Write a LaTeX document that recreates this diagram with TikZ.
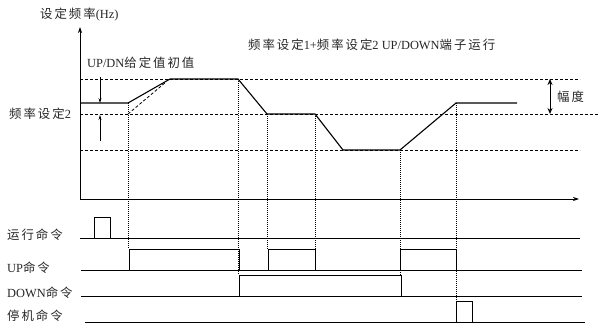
\documentclass[tikz,border=0pt]{standalone}
\usepackage{fontspec}
\setmainfont{Liberation Serif}
\newfontfamily\cjk[LetterSpace=16]{Noto Sans CJK SC}
\newfontfamily\lat{Liberation Serif}
\usetikzlibrary{arrows.meta}
\tikzset{
  lbl/.style={anchor=west,inner sep=0pt,text=black!85,font=\fontsize{12.4}{14}\selectfont},
  axisline/.style={line width=0.8pt,-{Stealth[length=6pt,width=4pt]}},
  curve/.style={line width=1.1pt,line join=miter},
  guide/.style={line width=0.6pt,dash pattern=on 3pt off 2pt},
  vdot/.style={line width=0.6pt,dash pattern=on 1pt off 1pt},
  sig/.style={line width=0.9pt},
  pulse/.style={line width=1pt},
  smallarrow/.style={line width=0.6pt,-{Stealth[length=5pt,width=3pt]}},
  bigarrow/.style={line width=1pt,{Stealth[length=6pt,width=5pt]}-{Stealth[length=6pt,width=5pt]}}
}
\begin{document}
\begin{tikzpicture}[x=1pt,y=-1pt]
\useasboundingbox (0,0) rectangle (598,324);
% axes
\coordinate (O) at (80,199);
\coordinate (Ytop) at (80,27);
\coordinate (Xend) at (579,199);
\draw[axisline] (80,200) -- (Ytop);
\draw[axisline] (O) -- (Xend);
% guide dashed levels
\draw[guide] (80,79) -- (580,79);
\draw[guide] (80,114) -- (598,114);
\draw[guide] (80,150) -- (580,150);
% frequency curve
\draw[curve] (80,103) -- (128,103) -- (170,79) -- (238,79) -- (267,114) -- (315,114) -- (343,150) -- (400,150) -- (456,103) -- (517,103);
% dashed ramp
\draw[guide,line width=0.8pt] (128,114) -- (166,82);
% vertical dotted guides
\draw[vdot] (128,103) -- (128,249);
\draw[vdot] (238,79) -- (238,275);
\draw[vdot] (267,114) -- (267,249);
\draw[vdot] (315,114) -- (315,249);
\draw[vdot] (400,150) -- (400,275);
\draw[vdot] (456,103) -- (456,301);
% arrows
\draw[smallarrow] (100,77) -- (100,103);
\draw[smallarrow] (100,141) -- (100,115);
\draw[bigarrow] (550,79) -- (550,114);
% signal baselines
\draw[sig] (80,238) -- (580,238);
\draw[sig] (81,270) -- (582,270);
\draw[sig] (81,296) -- (582,296);
\draw[sig] (85,322) -- (585,322);
% pulses
\draw[pulse] (94,238) rectangle (110,217);
\draw[pulse] (129,270) rectangle (239,249);
\draw[pulse] (268,270) rectangle (315,249);
\draw[pulse] (400,270) rectangle (456,249);
\draw[pulse] (239,296) rectangle (401,275);
\draw[pulse] (456,322) rectangle (472,301);
% labels
\node[lbl] (ylab) at (40,15) {{\cjk 设定频率}{\lat (Hz)}};
\node[lbl] (title) at (248,45) {{\cjk 频率设定}{\lat 1+}{\cjk 频率设定}{\lat 2 UP/DOWN}{\cjk 端子运行}};
\node[lbl] (init) at (87,63) {{\lat UP/DN}{\cjk 给定值初值}};
\node[lbl] (f2) at (9,114) {{\cjk 频率设定}{\lat 2}};
\node[lbl] (amp) at (557,97) {{\cjk 幅度}};
\node[lbl] (run) at (7,235) {{\cjk 运行命令}};
\node[lbl] (up) at (7,268) {{\lat UP}{\cjk 命令}};
\node[lbl] (down) at (7,293) {{\lat DOWN}{\cjk 命令}};
\node[lbl] (stop) at (7,316) {{\cjk 停机命令}};
\end{tikzpicture}
\end{document}
